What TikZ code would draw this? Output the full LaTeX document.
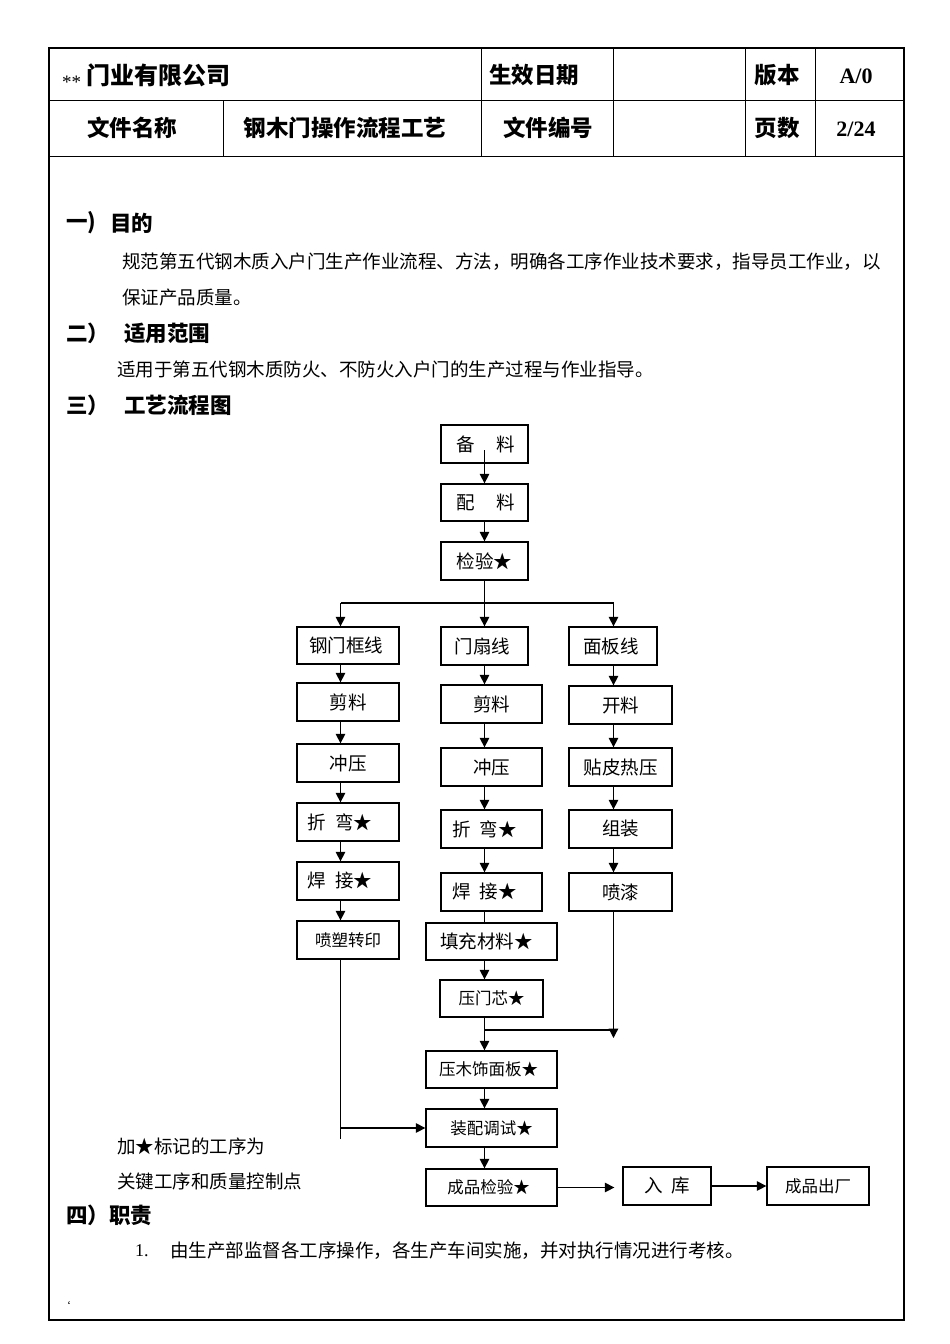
\documentclass[tikz,border=0pt]{standalone}
\usepackage{fontspec}
\setmainfont{Liberation Serif}
\newfontfamily\cjk{Noto Sans CJK SC}
\usetikzlibrary{arrows.meta,calc}
\newcommand\fs[1]{\fontsize{#1}{#1}\selectfont}
% [opts]{name}{x1}{y1}{x2}{y2}{text}{dx}
\newcommand\pb[8][]{\node[pbox,#1,minimum width={(#5-#3)*1pt},minimum height={(#6-#4)*1pt}] (#2) at ({(#3+#5)/2},{(#4+#6)/2}) {\makebox[0pt]{\hspace*{#8pt}\hspace*{#8pt}#7}};}
\begin{document}
\begin{tikzpicture}[x=1pt,y=-1pt,
  pbox/.style={draw,line width=1.3pt,inner sep=0pt,font=\cjk\fs{18.5}},
  sm/.style={font=\cjk\fs{16.5}},
  arr/.style={line width=1.3pt,-{Triangle[length=9.5pt,width=9.5pt]}},
  ln/.style={line width=1.3pt},
  txt/.style={inner sep=0pt,anchor=west,font=\cjk\fs{18.5}},
  hd/.style={inner sep=0pt,anchor=west,font=\cjk\bfseries\fs{21.5}},
  th/.style={inner sep=0pt,font=\cjk\bfseries\fs{22.5}},
  tn/.style={inner sep=0pt,font=\bfseries\fs{22}},
]
\useasboundingbox (0,0) rectangle (950,1344);
\fill[white] (0,0) rectangle (950,1344);
% frame and header table
\draw[line width=2.6pt] (49,48) rectangle (904,1320);
\draw[line width=1pt] (49,100) -- (904,100);
\draw[line width=1pt] (49,156) -- (904,156);
\draw[line width=1pt] (481,48) -- (481,156);
\draw[line width=1pt] (613,48) -- (613,156);
\draw[line width=1pt] (745,48) -- (745,156);
\draw[line width=1pt] (815,48) -- (815,156);
\draw[line width=1pt] (223,100) -- (223,156);
\node[inner sep=0pt,anchor=base west,font=\fs{19}] (ast) at (62,88) {**};
\node[th,anchor=west,font=\cjk\bfseries\fs{24}] (co) at (86,75) {门业有限公司};
\node[th] (sxrq) at (534,75) {生效日期};
\node[th] (bb) at (777,75) {版本};
\node[tn] (bbv) at (856,76) {A/0};
\node[th] (wjmc) at (132,128) {文件名称};
\node[th] (wjname) at (345,128) {钢木门操作流程工艺};
\node[th] (wjbh) at (548,128) {文件编号};
\node[th] (ys) at (777,128) {页数};
\node[tn] (ysv) at (856,129) {2/24};
% body text
\node[hd] (h1a) at (66,223) {一)};
\node[hd] (h1b) at (110,223) {目的};
\node[txt] (t1) at (122,262) {规范第五代钢木质入户门生产作业流程、方法，明确各工序作业技术要求，指导员工作业，以};
\node[txt] (t2) at (122,298) {保证产品质量。};
\node[hd] (h2a) at (66,333) {二）};
\node[hd] (h2b) at (124,333) {适用范围};
\node[txt] (t3) at (117,369) {适用于第五代钢木质防火、不防火入户门的生产过程与作业指导。};
\node[hd] (h3a) at (66,405) {三）};
\node[hd] (h3b) at (124,405) {工艺流程图};
\node[txt] (n1) at (117,1146) {加★标记的工序为};
\node[txt] (n2) at (117,1181) {关键工序和质量控制点};
\node[hd,font=\cjk\bfseries\fs{21.5}] (h4) at (66,1215) {四）职责};
\node[inner sep=0pt,anchor=west,font=\fs{18}] (num1) at (135,1251) {1.};
\node[txt] (t4) at (170,1251) {由生产部监督各工序操作，各生产车间实施，并对执行情况进行考核。};
\node[inner sep=0pt,font=\fs{12}] (tick) at (69,1305) {`};
% flowchart boxes
\pb{bl}{441}{425}{528}{463}{备\hspace{22pt}料}{1}
\pb{pl}{441}{484}{528}{521}{配\hspace{22pt}料}{1}
\pb{jy}{441}{542}{528}{580}{检验★}{0}
\pb{a1}{297}{627}{399}{664}{钢门框线}{-2}
\pb{a2}{297}{683}{399}{721}{剪料}{0}
\pb{a3}{297}{744}{399}{782}{冲压}{0}
\pb{a4}{297}{803}{399}{841}{折\hspace{9pt}弯★}{-8}
\pb{a5}{297}{862}{399}{900}{焊\hspace{9pt}接★}{-8}
\pb[sm]{a6}{297}{921}{399}{959}{喷塑转印}{0}
\pb{b1}{441}{627}{528}{665}{门扇线}{-2}
\pb{b2}{441}{685}{542}{723}{剪料}{0}
\pb{b3}{441}{748}{542}{786}{冲压}{0}
\pb{b4}{441}{810}{542}{848}{折\hspace{9pt}弯★}{-7}
\pb{b5}{441}{873}{542}{911}{焊\hspace{9pt}接★}{-7}
\pb{b6}{426}{923}{557}{960}{填充材料★}{-5}
\pb[sm]{b7}{440}{980}{543}{1017}{压门芯★}{0}
\pb[sm]{b8}{426}{1051}{557}{1088}{压木饰面板★}{-3}
\pb[sm]{b9}{426}{1109}{557}{1147}{装配调试★}{0}
\pb[sm]{b10}{426}{1169}{557}{1206}{成品检验★}{-3}
\pb{p1}{569}{627}{657}{665}{面板线}{-2}
\pb{p2}{569}{686}{672}{724}{开料}{0}
\pb{p3}{569}{748}{672}{786}{贴皮热压}{0}
\pb{p4}{569}{810}{672}{848}{组装}{0}
\pb{p5}{569}{873}{672}{911}{喷漆}{0}
\pb{rk}{623}{1167}{711}{1205}{入\hspace{8pt}库}{0}
\pb[sm]{cc}{767}{1167}{869}{1205}{成品出厂}{0}
% guide coordinates
\coordinate (c1) at (340.5,0);
\coordinate (c2) at (484.5,0);
\coordinate (c3) at (613.5,0);
\coordinate (sp) at (0,603);
\coordinate (mg) at (0,1030);
\coordinate (mg2) at (0,1038);
\coordinate (e1) at (0,1139);
% connectors
\draw[arr] ([yshift=-6pt]bl.center -| c2) -- (pl.north -| c2);
\draw[arr] (pl.south -| c2) -- (jy.north -| c2);
\draw[ln] (jy.south -| c2) -- (c2 |- sp);
\draw[ln] (c1 |- sp) -- (c3 |- sp);
\draw[arr] (c1 |- sp) -- (a1.north -| c1);
\draw[arr] (c2 |- sp) -- (b1.north -| c2);
\draw[arr] (c3 |- sp) -- (p1.north -| c3);
\foreach \u/\v in {a1/a2,a2/a3,a3/a4,a4/a5,a5/a6}
  \draw[arr] (\u.south -| c1) -- (\v.north -| c1);
\draw[ln] (a6.south -| c1) -- (c1 |- e1);
\draw[arr] (c1 |- b9.west) -- (b9.west);
\foreach \u/\v in {b1/b2,b2/b3,b3/b4,b4/b5,b6/b7,b7/b8,b8/b9,b9/b10}
  \draw[arr] (\u.south -| c2) -- (\v.north -| c2);
\draw[ln] (b5.south -| c2) -- (b6.north -| c2);
\foreach \u/\v in {p1/p2,p2/p3,p3/p4,p4/p5}
  \draw[arr] (\u.south -| c3) -- (\v.north -| c3);
\draw[arr] (p5.south -| c3) -- (c3 |- mg2);
\draw[ln] (c2 |- mg) -- (c3 |- mg);
\draw[arr,shorten >=8pt] (b10.east) -- (rk.west |- b10.east);
\draw[arr] (rk.east) -- (cc.west);
\end{tikzpicture}
\end{document}
